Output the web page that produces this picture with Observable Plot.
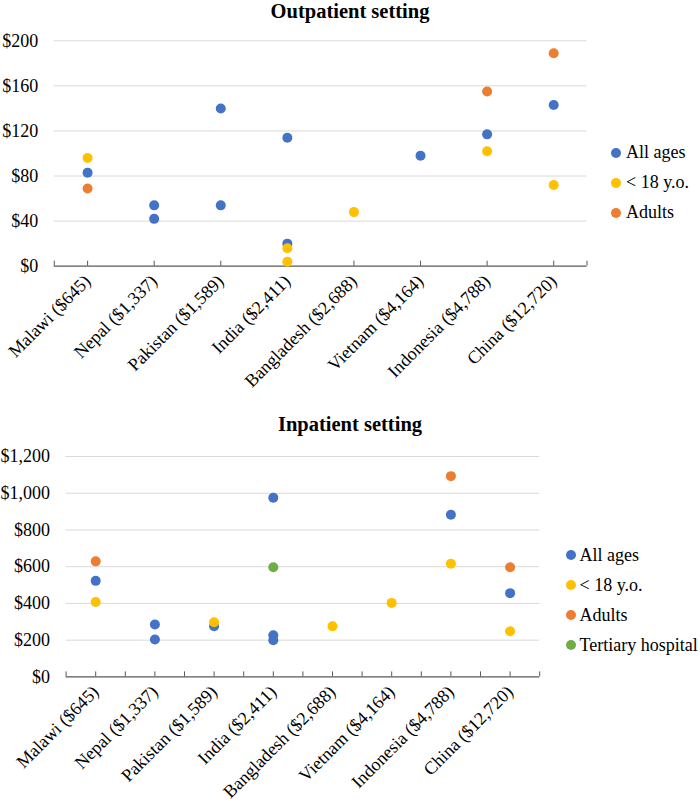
<!DOCTYPE html>
<html><head><meta charset="utf-8">
<script src="https://cdn.jsdelivr.net/npm/d3@7"></script>
<script src="https://cdn.jsdelivr.net/npm/@observablehq/plot@0.6"></script>
<style>
body{margin:0;background:#fff;}
#wrap{position:relative;width:700px;height:807px;overflow:hidden;font-family:"Liberation Serif","Times New Roman",serif;color:#000;}
.title{position:absolute;left:0;width:700px;text-align:center;font-weight:bold;font-size:20.5px;line-height:23px;}
.leg{position:absolute;font-size:18px;line-height:20px;white-space:nowrap;}
.sw{position:absolute;width:10px;height:10px;border-radius:50%;}
.panel{position:absolute;left:0;}
</style></head><body><div id="wrap"></div>
<script>
// Categories (country, GDP per capita)
const countries = ["Malawi","Nepal","Pakistan","India","Bangladesh","Vietnam","Indonesia","China"];
const gdp = ["$645","$1,337","$1,589","$2,411","$2,688","$4,164","$4,788","$12,720"];
const categories = countries.map((c, i) => `${c} (${gdp[i]})`);

// Series
const seriesNames = ["All ages", "< 18 y.o.", "Adults", "Tertiary hospital"];
const seriesColors = ["#4472C4", "#FFC000", "#ED7D31", "#70AD47"];

// Outpatient setting (US$)
const outAllAges = [["Malawi",83],["Nepal",54],["Nepal",42],["Pakistan",140],["Pakistan",54],["India",114],["India",20],["Vietnam",98],["Indonesia",117],["China",143]];
const outUnder18 = [["Malawi",96],["India",16],["India",4],["Bangladesh",48],["Indonesia",102],["China",72]];
const outAdults = [["Malawi",69],["Indonesia",155],["China",189]];
const outTicks = [0, 40, 80, 120, 160, 200];

// Inpatient setting (US$)
const inAllAges = [["Malawi",523],["Nepal",285],["Nepal",204],["Pakistan",276],["India",975],["India",227],["India",200],["Indonesia",883],["China",456]];
const inUnder18 = [["Malawi",408],["Pakistan",298],["Bangladesh",276],["Vietnam",403],["Indonesia",616],["China",249]];
const inAdults = [["Malawi",629],["Indonesia",1093],["China",597]];
const inTertiary = [["India",597]];
const inTicks = [0, 200, 400, 600, 800, 1000, 1200];

const money = d => "$" + d3.format(",")(d);
const font = '"Liberation Serif","Times New Roman",serif';

function flatten(list) {
  const out = [];
  list.forEach((arr, s) => arr.forEach(([c, v]) => out.push({i: countries.indexOf(c), v, s: seriesNames[s]})));
  return out;
}

function panel({data, yTicks, height, mt, mb, ml, mr, tickPos, nSeries}) {
  const yMax = yTicks[yTicks.length - 1];
  return Plot.plot({
    width: 700, height,
    marginTop: mt, marginBottom: mb, marginLeft: ml, marginRight: mr,
    style: {fontFamily: font, fontSize: "18px", color: "#000", background: "transparent", overflow: "visible"},
    x: {type: "linear", domain: [-0.5, categories.length - 0.5]},
    y: {domain: [0, yMax]},
    color: {domain: seriesNames.slice(0, nSeries), range: seriesColors.slice(0, nSeries)},
    marks: [
      Plot.gridY(yTicks.filter(d => d > 0), {stroke: "#d9d9d9", strokeOpacity: 1, strokeWidth: 1}),
      Plot.axisY(yTicks, {tickSize: 0, tickPadding: 16, tickFormat: money, fontSize: 18, label: null}),
      Plot.ruleX(tickPos, {x: d => d, y1: 0, y2: 0, insetTop: -5, insetBottom: 0, stroke: "#595959", strokeWidth: 1}),
      Plot.ruleY([0], {stroke: "#595959", strokeWidth: 1.3}),
      Plot.axisX(d3.range(categories.length), {tickSize: 0, tickPadding: 12, tickRotate: -45, tickFormat: i => categories[i], fontSize: 18, label: null}),
      Plot.dot(data, {x: "i", y: "v", fill: "s", r: 5, stroke: null})
    ]
  });
}

const wrap = document.getElementById("wrap");

function addTitle(text, top) {
  const d = document.createElement("div");
  d.className = "title"; d.style.top = top + "px"; d.textContent = text;
  wrap.appendChild(d);
}
function addLegend(n, swX, textX, baselines) {
  for (let k = 0; k < n; k++) {
    const sw = document.createElement("div");
    sw.className = "sw";
    sw.style.background = seriesColors[k];
    sw.style.left = (swX - 5) + "px";
    sw.style.top = (baselines[k] - 5.6 - 5) + "px";
    wrap.appendChild(sw);
    const t = document.createElement("div");
    t.className = "leg";
    t.style.left = textX + "px";
    t.style.top = (baselines[k] - 16.1) + "px";
    t.textContent = seriesNames[k];
    wrap.appendChild(t);
  }
}

// Top panel
const top1 = panel({
  data: flatten([outAllAges, outUnder18, outAdults]),
  yTicks: outTicks, height: 400, mt: 40.3, mb: 400 - 265.7, ml: 53.8, mr: 700 - 586.5,
  tickPos: [-0.5, ...d3.range(categories.length), categories.length - 0.5], nSeries: 3
});
top1.classList.add("panel"); top1.style.top = "0px";
wrap.appendChild(top1);

// Bottom panel
const bot = panel({
  data: flatten([inAllAges, inUnder18, inAdults, inTertiary]),
  yTicks: inTicks, height: 407, mt: 56, mb: 407 - 276.4, ml: 65.6, mr: 700 - 539.2,
  tickPos: d3.range(-0.5, categories.length - 0.25, 0.5), nSeries: 4
});
bot.classList.add("panel"); bot.style.top = "400px";
wrap.appendChild(bot);

addTitle("Outpatient setting", 0);
addTitle("Inpatient setting", 413);
addLegend(3, 616, 626, [158.3, 188.3, 218.3]);
addLegend(4, 570.5, 579.5, [560.6, 590.6, 620.6, 650.6]);
</script>
</body></html>
